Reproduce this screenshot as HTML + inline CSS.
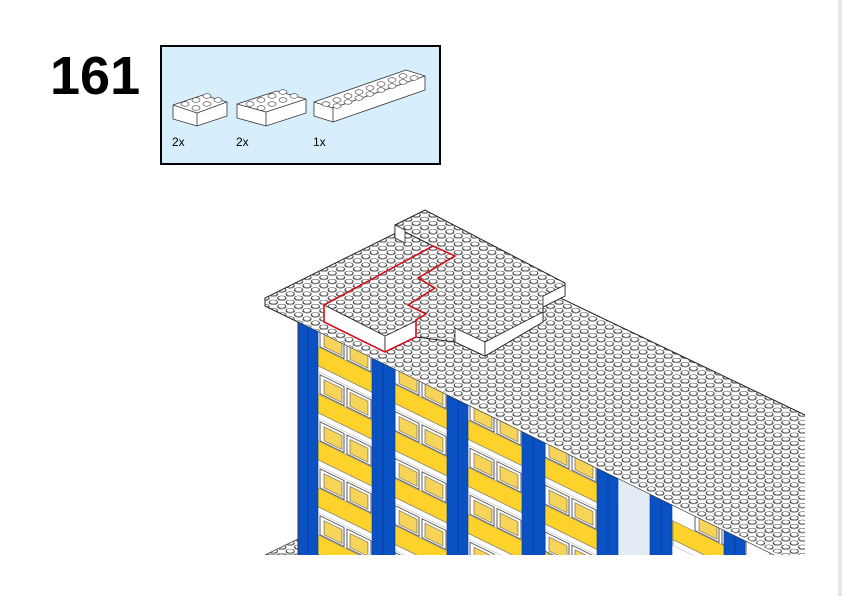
<!DOCTYPE html>
<html><head><meta charset="utf-8"><style>
html,body{margin:0;padding:0;background:#fff;width:842px;height:596px;overflow:hidden}
svg{display:block}
</style></head><body>
<svg width="842" height="596" viewBox="0 0 842 596" xmlns="http://www.w3.org/2000/svg" font-family="Liberation Sans, sans-serif">
<defs>
<pattern id="studs" patternUnits="userSpaceOnUse" width="1" height="1" patternTransform="matrix(8.4,4.15,8.4,-4.15,265,302)">
<rect x="0" y="0" width="1" height="1" fill="#fff"/>
<ellipse cx="0.6" cy="0.4" rx="0.34" ry="0.34" fill="#fff" stroke="#333" stroke-width="0.07"/>
<ellipse cx="0.5" cy="0.5" rx="0.34" ry="0.34" fill="#fff" stroke="#222" stroke-width="0.07"/>
</pattern>
<pattern id="floor" patternUnits="userSpaceOnUse" x="0" y="-7" width="75" height="47">
<rect x="0" y="0" width="75" height="47" fill="#fff"/>
<rect x="22" y="2" width="24" height="19" fill="#fff" stroke="#333" stroke-width="0.8"/>
<rect x="26" y="5" width="18" height="14" fill="#f6d45a" stroke="#555" stroke-width="0.6"/>
<rect x="49" y="2" width="24" height="19" fill="#fff" stroke="#333" stroke-width="0.8"/>
<rect x="52" y="5" width="18" height="14" fill="#f6d45a" stroke="#555" stroke-width="0.6"/>
<rect x="0" y="22" width="75" height="19" fill="#fdd22a" stroke="#666" stroke-width="0.5"/>
<rect x="0" y="41" width="75" height="6" fill="#fff" stroke="#555" stroke-width="0.5"/>
</pattern>
<clipPath id="fc2"><polygon points="298,322 790,563 790,555 298,555"/></clipPath>
<clipPath id="page"><rect x="0" y="0" width="842" height="555"/></clipPath>
</defs>
<rect x="838" y="0" width="4" height="596" fill="#e6e6e6"/>
<text x="50" y="94" font-size="54" font-weight="bold" fill="#000">161</text>
<rect x="161" y="46" width="279" height="118" fill="#d7eefc" stroke="#000" stroke-width="2"/>
<g stroke="#333" stroke-width="0.8" fill="#fff">
<polygon points="173,105 203,95 227,102 227,116 197,126 173,119"/>
<line x1="173" y1="105" x2="197" y2="113"/><line x1="197" y1="113" x2="227" y2="102"/><line x1="197" y1="113" x2="197" y2="126"/>
<polygon points="237,104 277,91 306,99 306,113 266,126 237,118"/>
<line x1="237" y1="104" x2="266" y2="112"/><line x1="266" y1="112" x2="306" y2="99"/><line x1="266" y1="112" x2="266" y2="126"/>
<polygon points="314,102 406,70 425,76 425,90 333,122 314,116"/>
<line x1="314" y1="102" x2="333" y2="108"/><line x1="333" y1="108" x2="425" y2="76"/><line x1="333" y1="108" x2="333" y2="122"/>
</g>
<g fill="#fff" stroke="#444" stroke-width="0.7">
<ellipse cx="185" cy="104" rx="4" ry="2.3"/><ellipse cx="196" cy="108" rx="4" ry="2.3"/><ellipse cx="196" cy="100" rx="4" ry="2.3"/><ellipse cx="207" cy="104" rx="4" ry="2.3"/><ellipse cx="207" cy="96" rx="4" ry="2.3"/><ellipse cx="218" cy="100" rx="4" ry="2.3"/>
<ellipse cx="250" cy="104" rx="4" ry="2.3"/><ellipse cx="261" cy="108" rx="4" ry="2.3"/><ellipse cx="261" cy="100" rx="4" ry="2.3"/><ellipse cx="272" cy="104" rx="4" ry="2.3"/><ellipse cx="272" cy="96" rx="4" ry="2.3"/><ellipse cx="283" cy="100" rx="4" ry="2.3"/><ellipse cx="283" cy="92" rx="4" ry="2.3"/><ellipse cx="294" cy="96" rx="4" ry="2.3"/>
<ellipse cx="326" cy="104" rx="4" ry="2.3"/><ellipse cx="337" cy="106" rx="4" ry="2.3"/><ellipse cx="337" cy="100" rx="4" ry="2.3"/><ellipse cx="348" cy="102" rx="4" ry="2.3"/><ellipse cx="348" cy="96" rx="4" ry="2.3"/><ellipse cx="359" cy="98" rx="4" ry="2.3"/><ellipse cx="359" cy="92" rx="4" ry="2.3"/><ellipse cx="370" cy="94" rx="4" ry="2.3"/><ellipse cx="370" cy="88" rx="4" ry="2.3"/><ellipse cx="381" cy="90" rx="4" ry="2.3"/><ellipse cx="381" cy="84" rx="4" ry="2.3"/><ellipse cx="392" cy="86" rx="4" ry="2.3"/><ellipse cx="392" cy="80" rx="4" ry="2.3"/><ellipse cx="403" cy="82" rx="4" ry="2.3"/><ellipse cx="403" cy="76" rx="4" ry="2.3"/><ellipse cx="414" cy="78" rx="4" ry="2.3"/>
</g>
<text x="172" y="146" font-size="12">2x</text>
<text x="236" y="146" font-size="12">2x</text>
<text x="313" y="146" font-size="12">1x</text>

<g clip-path="url(#page)">
<polygon points="265,298 410,226 805,415 805,555 790,560 300,322 265,306" fill="url(#studs)"/>
<polyline points="805,415 410,226 265,298 265,306 300,323 790,563" fill="none" stroke="#222" stroke-width="1"/>
<polygon points="265,555 300,538 300,555" fill="url(#studs)" stroke="#444" stroke-width="0.8"/>
<g clip-path="url(#fc2)">
<g transform="translate(298,322) matrix(1,0.49,0,1,0,0)">
<rect x="0" y="0" width="520" height="300" fill="url(#floor)"/>
<rect x="320" y="0" width="32" height="300" fill="#e3ebf4"/>
<g fill="#0a52c4" stroke="#083a8c" stroke-width="0.6">
<rect x="0" y="0" width="20" height="300"/>
<rect x="74" y="0" width="23" height="300"/>
<rect x="149" y="0" width="21" height="300"/>
<rect x="224" y="0" width="23" height="300"/>
<rect x="299" y="0" width="21" height="300"/>
<rect x="352" y="0" width="22" height="300"/>
<rect x="426" y="0" width="21" height="300"/>
</g>
<g stroke="#07347e" stroke-width="0.6">
<path d="M10 0V300M85 0V300M160 0V300M235 0V300M310 0V300M363 0V300M437 0V300"/>
</g>
</g>
</g>
<line x1="298" y1="322" x2="298" y2="555" stroke="#333"/>
</g>
<polygon points="395,225 425,210 565,283 565,296 543,307 543,322 485,356 455,342 416,337 385,352 324,322 324,305 433,246 405,232 395,238" fill="url(#studs)" stroke="#222" stroke-width="1"/>
<polygon points="395,225 405,230 405,243 395,238" fill="#fff" stroke="#222" stroke-width="0.8"/>
<polygon points="324,305 385,336 385,352 324,322" fill="#fff" stroke="#222" stroke-width="0.8"/>
<polygon points="385,336 416,321 416,337 385,352" fill="#fff" stroke="#222" stroke-width="0.8"/>
<polygon points="455,328 485,342 485,356 455,342" fill="#fff" stroke="#222" stroke-width="0.8"/>
<polygon points="485,342 543,312 543,322 485,356" fill="#fff" stroke="#222" stroke-width="0.8"/>
<polygon points="543,296 565,285 565,296 543,307" fill="#fff" stroke="#222" stroke-width="0.8"/>
<polyline points="324,305 433,246 455,256 418,278 435,288 408,305 426,314 416,320 416,337 385,352 324,322 324,305" fill="none" stroke="#d0101a" stroke-width="1.6"/>
</svg>
</body></html>
